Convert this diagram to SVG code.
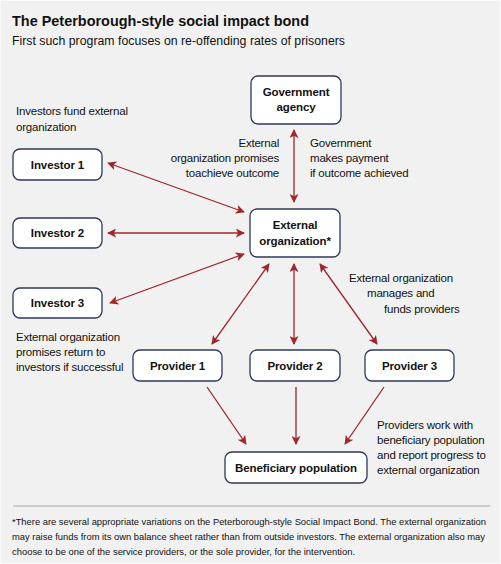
<svg xmlns="http://www.w3.org/2000/svg" width="501" height="564" viewBox="0 0 501 564">
<style>
.bg{fill:#f1f1f1}
.box{fill:#ffffff;stroke:#2c3a5a;stroke-width:1.3}
.nl{font-family:"Liberation Sans",Arial,sans-serif;font-size:11.5px;font-weight:bold;fill:#111;text-anchor:middle;letter-spacing:-0.1px}
.lb{font-family:"Liberation Sans",Arial,sans-serif;font-size:11.5px;fill:#111;letter-spacing:-0.2px}
.ar{stroke:#a0262a;stroke-width:1.3;fill:none}
</style>
<defs>
<marker id="ah" viewBox="0 0 10 10" refX="9" refY="5" markerWidth="9" markerHeight="9" markerUnits="userSpaceOnUse" orient="auto-start-reverse">
<path d="M0,0 L10,5 L0,10 L2.5,5 Z" fill="#a0262a"/>
</marker>
</defs>
<rect class="bg" x="0" y="0" width="501" height="564"/>
<rect x="0.5" y="0.5" width="500" height="563" fill="none" stroke="#fafafa" stroke-width="1"/>
<text x="12" y="26" font-family="'Liberation Sans',Arial,sans-serif" font-size="14.5" font-weight="bold" fill="#111" textLength="297" lengthAdjust="spacingAndGlyphs">The Peterborough-style social impact bond</text>
<text x="12" y="45" font-family="'Liberation Sans',Arial,sans-serif" font-size="12" fill="#111" textLength="333" lengthAdjust="spacingAndGlyphs">First such program focuses on re-offending rates of prisoners</text>

<g id="connectors">
<line class="ar" x1="294" y1="130" x2="294" y2="202" marker-start="url(#ah)" marker-end="url(#ah)"/>
<line class="ar" x1="108" y1="163" x2="244" y2="212" marker-start="url(#ah)" marker-end="url(#ah)"/>
<line class="ar" x1="108" y1="233" x2="244" y2="233" marker-start="url(#ah)" marker-end="url(#ah)"/>
<line class="ar" x1="110" y1="303" x2="244" y2="254" marker-start="url(#ah)" marker-end="url(#ah)"/>
<line class="ar" x1="269" y1="264" x2="212" y2="344" marker-start="url(#ah)" marker-end="url(#ah)"/>
<line class="ar" x1="294" y1="264" x2="294" y2="344" marker-start="url(#ah)" marker-end="url(#ah)"/>
<line class="ar" x1="320" y1="264" x2="377" y2="344" marker-start="url(#ah)" marker-end="url(#ah)"/>
<line class="ar" x1="207" y1="387" x2="246" y2="444" marker-end="url(#ah)"/>
<line class="ar" x1="296" y1="387" x2="296" y2="444" marker-end="url(#ah)"/>
<line class="ar" x1="384" y1="387" x2="345" y2="444" marker-end="url(#ah)"/>
</g>

<g id="government">
<rect class="box" x="251" y="76" width="90" height="48" rx="7"/>
<text class="nl" x="296" y="96">Government</text>
<text class="nl" x="296" y="111">agency</text>
</g>
<g id="investor1">
<rect class="box" x="13" y="149" width="89" height="31" rx="7"/>
<text class="nl" x="57.5" y="169">Investor 1</text>
</g>
<g id="investor2">
<rect class="box" x="13" y="218" width="89" height="30" rx="7"/>
<text class="nl" x="57.5" y="237">Investor 2</text>
</g>
<g id="investor3">
<rect class="box" x="13" y="288" width="89" height="30" rx="7"/>
<text class="nl" x="57.5" y="307">Investor 3</text>
</g>
<g id="external">
<rect class="box" x="250" y="209" width="90" height="48" rx="7"/>
<text class="nl" x="295" y="229">External</text>
<text class="nl" x="295" y="245">organization*</text>
</g>
<g id="provider1">
<rect class="box" x="133" y="350" width="89" height="31" rx="7"/>
<text class="nl" x="177.5" y="370">Provider 1</text>
</g>
<g id="provider2">
<rect class="box" x="250" y="350" width="90" height="31" rx="7"/>
<text class="nl" x="295" y="370">Provider 2</text>
</g>
<g id="provider3">
<rect class="box" x="365" y="350" width="89" height="31" rx="7"/>
<text class="nl" x="409.5" y="370">Provider 3</text>
</g>
<g id="beneficiary">
<rect class="box" x="225" y="452" width="142" height="31" rx="7"/>
<text class="nl" x="296" y="472">Beneficiary population</text>
</g>

<g id="labels">
<text class="lb" x="16" y="115">Investors fund external</text>
<text class="lb" x="16" y="131">organization</text>
<text class="lb" text-anchor="end" x="279" y="147">External</text>
<text class="lb" text-anchor="end" x="279" y="162">organization promises</text>
<text class="lb" text-anchor="end" x="279" y="177">toachieve outcome</text>
<text class="lb" x="310" y="147">Government</text>
<text class="lb" x="310" y="162">makes payment</text>
<text class="lb" x="310" y="177">if outcome achieved</text>
<text class="lb" x="349" y="282">External organization</text>
<text class="lb" x="367" y="297">manages and</text>
<text class="lb" x="384" y="313">funds providers</text>
<text class="lb" x="16" y="341">External organization</text>
<text class="lb" x="16" y="356">promises return to</text>
<text class="lb" x="16" y="371">investors if successful</text>
<text class="lb" x="377" y="429">Providers work with</text>
<text class="lb" x="377" y="444">beneficiary population</text>
<text class="lb" x="377" y="459">and report progress to</text>
<text class="lb" x="377" y="474">external organization</text>
</g>

<line x1="13" y1="506" x2="490" y2="506" stroke="#a8a8a8" stroke-width="1"/>
<g font-family="'Liberation Sans',Arial,sans-serif" font-size="9.5" fill="#111">
<text x="12" y="525" textLength="474" lengthAdjust="spacingAndGlyphs">*There are several appropriate variations on the Peterborough-style Social Impact Bond. The external organization</text>
<text x="12" y="540" textLength="473" lengthAdjust="spacingAndGlyphs">may raise funds from its own balance sheet rather than from outside investors. The external organization also may</text>
<text x="12" y="555" textLength="343" lengthAdjust="spacingAndGlyphs">choose to be one of the service providers, or the sole provider, for the intervention.</text>
</g>
</svg>
